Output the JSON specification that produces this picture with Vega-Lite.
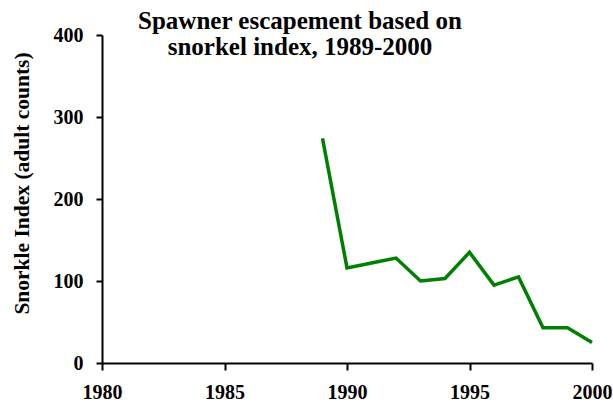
{
  "$schema": "https://vega.github.io/schema/vega-lite/v6.json",
  "autosize": "none",
  "width": 490,
  "height": 328,
  "padding": {"left": 102, "top": 35, "right": 21, "bottom": 39},
  "background": "white",
  "title": {
    "text": ["Spawner escapement based on", "snorkel index, 1989-2000"],
    "font": "Liberation Serif",
    "fontSize": 25,
    "fontWeight": "bold",
    "color": "black",
    "lineHeight": 26,
    "anchor": "middle",
    "frame": "group",
    "baseline": "alphabetic",
    "dx": -47,
    "offset": -55
  },
  "config": {
    "view": {"stroke": null},
    "axis": {
      "grid": false,
      "domainColor": "black",
      "domainWidth": 2,
      "tickColor": "black",
      "tickWidth": 2,
      "labelFont": "Liberation Serif",
      "labelFontWeight": "bold",
      "labelFontSize": 20,
      "labelColor": "black",
      "titleFont": "Liberation Serif",
      "titleFontWeight": "bold",
      "titleFontSize": 21.5,
      "titleColor": "black"
    }
  },
  "data": {
    "values": [
      {"year": 1989, "index": 274},
      {"year": 1990, "index": 116},
      {"year": 1991, "index": 122},
      {"year": 1992, "index": 128},
      {"year": 1993, "index": 100},
      {"year": 1994, "index": 103},
      {"year": 1995, "index": 135},
      {"year": 1996, "index": 95},
      {"year": 1997, "index": 105},
      {"year": 1998, "index": 43},
      {"year": 1999, "index": 43},
      {"year": 2000, "index": 25}
    ]
  },
  "mark": {"type": "line", "color": "#008000", "strokeWidth": 3.5, "strokeJoin": "miter"},
  "encoding": {
    "x": {
      "field": "year",
      "type": "quantitative",
      "scale": {"domain": [1980, 2000], "nice": false, "zero": false},
      "axis": {
        "title": null,
        "values": [1980, 1985, 1990, 1995, 2000],
        "format": "d",
        "tickSize": 7,
        "labelPadding": 12,
        "labelBaseline": "top",
        "labelFlush": false,
        "labelOverlap": false
      }
    },
    "y": {
      "field": "index",
      "type": "quantitative",
      "scale": {"domain": [0, 400], "nice": false},
      "axis": {
        "title": "Snorkle Index (adult counts)",
        "values": [0, 100, 200, 300, 400],
        "tickSize": 6,
        "labelPadding": 13,
        "labelBaseline": "middle",
        "titleX": -80,
        "titleY": 148,
        "titleAngle": -90,
        "titleAlign": "center",
        "titleBaseline": "middle"
      }
    }
  }
}
